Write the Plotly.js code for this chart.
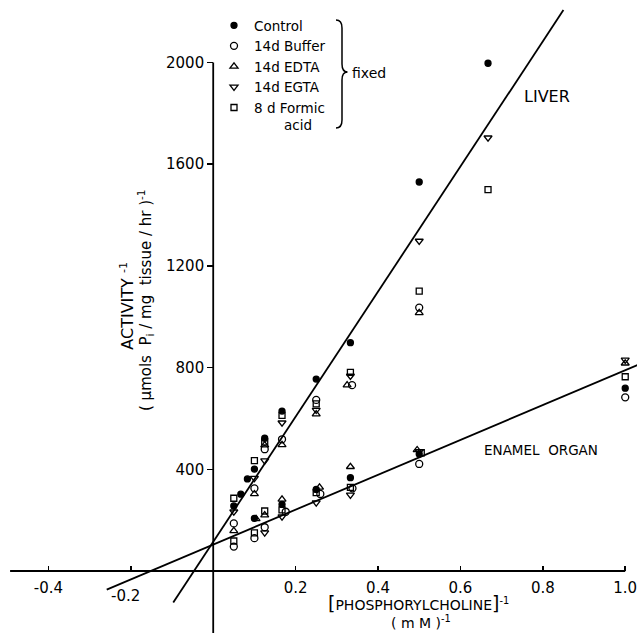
<!DOCTYPE html>
<html>
<head>
<meta charset="utf-8">
<script src="https://cdn.plot.ly/plotly-3.0.1.min.js"></script>
<style>html,body{margin:0;padding:0;background:#fff;}#chart{width:637px;height:633px;}</style>
</head>
<body>
<div id="chart"></div>
<script>
// ---------- data ----------
const seriesNames = ["Control", "14d Buffer", "14d EDTA", "14d EGTA", "8 d Formic<br>\u00a0\u00a0\u00a0\u00a0\u00a0\u00a0\u00a0acid"];

// Liver
const liverControlX = [0.05, 0.067, 0.083, 0.1, 0.125, 0.167, 0.25, 0.333, 0.5, 0.667];
const liverControlY = [256, 302, 362, 401, 522, 629, 755, 898, 1530, 1997];
const liverBufferX  = [0.05, 0.1, 0.125, 0.167, 0.25, 0.337, 0.5];
const liverBufferY  = [187, 325, 479, 518, 673, 731, 1036];
const liverEdtaX    = [0.05, 0.1, 0.125, 0.167, 0.25, 0.325, 0.5];
const liverEdtaY    = [158, 303, 495, 496, 617, 731, 1015];
const liverEgtaX    = [0.05, 0.1, 0.125, 0.167, 0.25, 0.333, 0.5, 0.667];
const liverEgtaY    = [233, 365, 434, 583, 633, 767, 1298, 1704];
const liverFormicX  = [0.05, 0.1, 0.125, 0.167, 0.25, 0.333, 0.5, 0.667];
const liverFormicY  = [286, 434, 508, 612, 657, 781, 1101, 1500];

// Enamel organ
const enamelControlX = [0.1, 0.167, 0.25, 0.333, 0.5, 1.0];
const enamelControlY = [207, 262, 321, 367, 460, 719];
const enamelBufferX  = [0.05, 0.1, 0.125, 0.176, 0.26, 0.338, 0.5, 1.0];
const enamelBufferY  = [96, 129, 172, 233, 303, 325, 421, 683];
const enamelEdtaX    = [0.104, 0.125, 0.167, 0.258, 0.333, 0.495, 1.0];
const enamelEdtaY    = [205, 220, 282, 329, 410, 476, 817];
const enamelEgtaX    = [0.125, 0.167, 0.25, 0.333, 0.5, 1.0];
const enamelEgtaY    = [151, 214, 269, 299, 470, 830];
const enamelFormicX  = [0.05, 0.1, 0.125, 0.167, 0.25, 0.333, 0.505, 1.0];
const enamelFormicY  = [118, 150, 236, 240, 308, 329, 465, 764];

// Fitted lines (end points)
const liverFitX  = [-0.097, 0.85];
const liverFitY  = [-124, 2206];
const enamelFitX = [-0.2585, 1.03];
const enamelFitY = [-73, 810];

// Tick labels
const yTickVals = [400, 800, 1200, 1600, 2000];
const yTickText = ["400", "800", "1200", "1600", "2000"];
const xTickVals = [-0.4, 0.2, 0.4, 0.6, 0.8, 1.0];
const xTickText = ["-0.4", "0.2", "0.4", "0.6", "0.8", "1.0"];
const xOffsetTickVals = [-0.2];   // tick whose label sits lower, under the fitted line
const xOffsetTickText = "-0.2";

// ---------- layout helpers ----------
const W = 637, H = 633;
const xMin = -0.5175, xMax = 1.0286, yMin = -243.9, yMax = 2245.8;
const FONT = "DejaVu Sans";
const px = v => v / W;            // pixel -> paper x
const py = v => 1 - v / H;        // pixel -> paper y

const symbols = ["circle", "circle-open", "triangle-up-open", "triangle-down-open", "square-open"];
const sizes = [6, 7, 7, 7, 6];
const liverX = [liverControlX, liverBufferX, liverEdtaX, liverEgtaX, liverFormicX];
const liverY = [liverControlY, liverBufferY, liverEdtaY, liverEgtaY, liverFormicY];
const enamelX = [enamelControlX, enamelBufferX, enamelEdtaX, enamelEgtaX, enamelFormicX];
const enamelY = [enamelControlY, enamelBufferY, enamelEdtaY, enamelEgtaY, enamelFormicY];

const traces = [
  {x: liverFitX, y: liverFitY, mode: "lines", line: {color: "#000", width: 1.8}, showlegend: false, hoverinfo: "skip"},
  {x: enamelFitX, y: enamelFitY, mode: "lines", line: {color: "#000", width: 1.8}, showlegend: false, hoverinfo: "skip"}
];
for (let i = 0; i < 5; i++) {
  const mk = {symbol: symbols[i], size: sizes[i], color: "#000", line: {color: "#000", width: 1.3}};
  traces.push({x: liverX[i], y: liverY[i], mode: "markers", name: seriesNames[i], legendgroup: "g" + i, marker: mk, showlegend: true});
  traces.push({x: enamelX[i], y: enamelY[i], mode: "markers", name: seriesNames[i], legendgroup: "g" + i, marker: mk, showlegend: false});
}

function bracePath() {
  const pts = [["M",336,20],["Q",342,20,342,28],["L",342,64],["Q",342,72,347.5,72],["Q",342,72,342,80],["L",342,120],["Q",342,128,336,128]];
  return pts.map(p => p[0] + " " + p.slice(1).map((v, k) => (k % 2 === 0 ? px(v) : py(v)).toFixed(5)).join(" ")).join(" ");
}

const ann = (text, x, y, size, extra) => Object.assign({text: text, xref: "paper", yref: "paper", x: px(x), y: py(y), showarrow: false, font: {family: FONT, size: size, color: "#000"}, xanchor: "center", yanchor: "middle"}, extra || {});

const layout = {
  width: W, height: H,
  margin: {l: 0, r: 0, t: 0, b: 0, autoexpand: false},
  paper_bgcolor: "#fff", plot_bgcolor: "#fff",
  font: {family: FONT, color: "#000"},
  xaxis: {
    range: [xMin, xMax], anchor: "free", position: (0 - yMin) / (yMax - yMin),
    showgrid: false, zeroline: false, showline: false,
    tickmode: "array", tickvals: xTickVals, ticktext: xTickText,
    ticks: "inside", ticklen: 5, tickwidth: 1.5, tickcolor: "#000",
    ticklabeloverflow: "allow", ticklabelstandoff: 6,
    minor: {tickmode: "array", tickvals: xOffsetTickVals, ticks: "inside", ticklen: 5, tickwidth: 1.5, tickcolor: "#000", showgrid: false},
    tickfont: {family: FONT, size: 15, color: "#000"}
  },
  yaxis: {
    range: [yMin, yMax], anchor: "free", position: (0 - xMin) / (xMax - xMin),
    showgrid: false, zeroline: false, showline: false,
    tickmode: "array", tickvals: yTickVals, ticktext: yTickText,
    ticks: "outside", ticklen: 6, tickwidth: 1.5, tickcolor: "#000",
    ticklabeloverflow: "allow",
    tickfont: {family: FONT, size: 15, color: "#000"}
  },
  showlegend: true,
  legend: {x: px(214), y: py(10), xanchor: "left", yanchor: "top", bgcolor: "rgba(0,0,0,0)",
           font: {family: FONT, size: 13.5, color: "#000"}, valign: "top", tracegroupgap: 0, borderwidth: 0},
  shapes: [
    {type: "line", xref: "x", yref: "y", x0: -0.493, x1: 1.0, y0: 0, y1: 0, line: {color: "#000", width: 1.8}},
    {type: "line", xref: "x", yref: "y", x0: 0, x1: 0, y0: yMin, y1: 2000, line: {color: "#000", width: 1.8}},
    {type: "path", xref: "paper", yref: "paper", path: bracePath(), line: {color: "#000", width: 1.5}}
  ],
  annotations: [
    ann("fixed", 350, 73, 14, {xanchor: "left"}),
    ann("LIVER", 546.7, 96, 16),
    ann("ENAMEL  ORGAN", 541, 450, 13.5),
    {text: xOffsetTickText, xref: "x", yref: "y", x: xOffsetTickVals[0], y: 0, xshift: -5, yshift: -25, showarrow: false,
     font: {family: FONT, size: 15, color: "#000"}, xanchor: "center", yanchor: "middle"},
    ann("<span style='font-size:19px'>[</span>PHOSPHORYLCHOLINE<span style='font-size:19px'>]</span><sup>-1</sup>", 418, 603, 14),
    ann("( m M )<sup>-1</sup>", 421, 622, 14),
    ann("ACTIVITY <sup>-1</sup>", 126.7, 306, 16, {textangle: -90}),
    ann("( \u03bcmols  P<sub>i</sub> / mg  tissue / hr )<sup>-1</sup>", 145, 300, 15, {textangle: -90})
  ]
};

Plotly.newPlot("chart", traces, layout, {staticPlot: true, displayModeBar: false});
</script>
</body>
</html>
